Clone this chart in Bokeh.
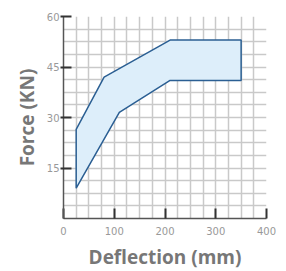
from bokeh.plotting import figure
from bokeh.models import Range1d, FixedTicker, AllLabels
from bokeh.embed import file_html
from bokeh.resources import INLINE

# data
upper_x = [25, 80, 210, 350]
upper_y = [26.5, 42, 53, 53]
lower_x = [25, 110, 210, 350]
lower_y = [9, 31.5, 41, 41]

x_major = [0, 100, 200, 300, 400]
y_major = [15, 30, 45, 60]
x_grid = [i * 25 for i in range(17)]
y_grid = [i * 3.75 for i in range(17)]

p = figure(frame_width=203, frame_height=202, output_backend="svg", toolbar_location=None,
           x_range=Range1d(0, 400), y_range=Range1d(0, 60),
           min_border_left=63, min_border_right=10, min_border_top=16, min_border_bottom=40,
           x_axis_label="Deflection (mm)", y_axis_label="Force (KN)")
p.outline_line_color = None
p.background_fill_color = "white"
p.border_fill_color = "white"

p.xgrid.ticker = FixedTicker(ticks=x_grid)
p.ygrid.ticker = FixedTicker(ticks=y_grid)
for g in (p.xgrid[0], p.ygrid[0]):
    g.grid_line_color = "#c9c9c9"
    g.grid_line_width = 1.5

p.xaxis.ticker = FixedTicker(ticks=x_major)
p.yaxis.ticker = FixedTicker(ticks=y_major)
p.xaxis.minor_tick_line_color = None
p.yaxis.minor_tick_line_color = None

for ax in (p.xaxis[0], p.yaxis[0]):
    ax.axis_line_color = "#555555"
    ax.axis_line_width = 1.5
    ax.major_tick_line_color = "#333333"
    ax.major_tick_line_width = 2
    ax.major_label_text_color = "#999999"
    ax.major_label_text_font = "DejaVu Sans"
    ax.major_label_text_font_size = "10px"
    ax.major_label_policy = AllLabels()
    ax.axis_label_text_color = "#777777"
    ax.axis_label_text_font = "Open Sans"
    ax.axis_label_text_font_style = "bold"
    ax.axis_label_text_font_size = "19px"

p.xaxis.major_tick_in = 10
p.xaxis.major_tick_out = 0
p.xaxis.major_label_standoff = 8
p.xaxis.axis_label_standoff = 6
p.yaxis.major_tick_in = 8
p.yaxis.major_tick_out = 3
p.yaxis.major_label_standoff = 1
p.yaxis.axis_label_standoff = 4

xs = upper_x + lower_x[::-1]
ys = upper_y + lower_y[::-1]
p.patch(xs, ys, fill_color="#ddeefa", line_color="#2b5f93", line_width=1.5)

open("out.html", "w").write(file_html(p, INLINE))
